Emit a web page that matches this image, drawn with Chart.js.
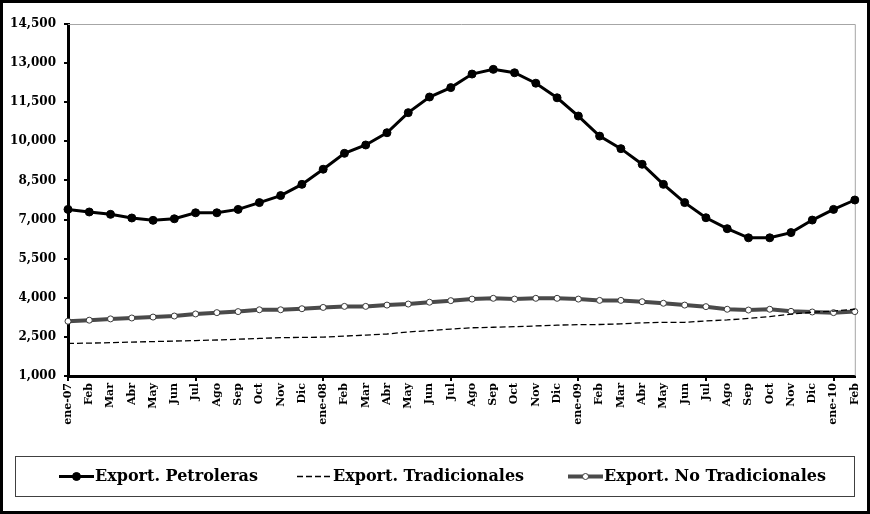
<!DOCTYPE html>
<html>
<head>
<meta charset="utf-8">
<script src="https://cdn.jsdelivr.net/npm/chart.js@4/dist/chart.umd.min.js"></script>
<style>
    body { margin: 0; background: #fff; }
    #wrap { width: 870px; height: 514px; }
</style>
</head>
<body>
<div id="wrap"><canvas id="exportChart" width="870" height="514"></canvas></div>
<script>
// Month labels (ene-07 .. Feb 2010)
const months = [
    'ene-07', 'Feb', 'Mar', 'Abr', 'May', 'Jun', 'Jul', 'Ago', 'Sep', 'Oct', 'Nov', 'Dic',
    'ene-08', 'Feb', 'Mar', 'Abr', 'May', 'Jun', 'Jul', 'Ago', 'Sep', 'Oct', 'Nov', 'Dic',
    'ene-09', 'Feb', 'Mar', 'Abr', 'May', 'Jun', 'Jul', 'Ago', 'Sep', 'Oct', 'Nov', 'Dic',
    'ene-10', 'Feb'
];

// Series values
const petroleras = [
    7390, 7290, 7200, 7060, 6970, 7030, 7260, 7260, 7390, 7650, 7920, 8350,
    8930, 9540, 9860, 10330, 11100, 11700, 12060, 12580, 12760, 12630, 12230, 11670,
    10970, 10200, 9720, 9120, 8350, 7650, 7070, 6650, 6300, 6300, 6500, 6980,
    7390, 7750
];
const tradicionales = [
    2250, 2260, 2280, 2300, 2320, 2340, 2360, 2380, 2410, 2440, 2470, 2480,
    2490, 2530, 2570, 2610, 2690, 2740, 2800, 2850, 2870, 2890, 2920, 2950,
    2970, 2975, 3000, 3040, 3060, 3060, 3110, 3150, 3210, 3280, 3370, 3450,
    3490, 3560
];
const noTradicionales = [
    3100, 3140, 3190, 3225, 3260, 3300, 3380, 3430, 3470, 3540, 3540, 3580,
    3630, 3670, 3670, 3720, 3760, 3830, 3890, 3950, 3980, 3950, 3980, 3980,
    3950, 3900, 3900, 3850, 3790, 3720, 3660, 3560, 3530, 3560, 3480, 3455,
    3430, 3470
];

// Axis range
const yMin = 1000;
const yMax = 14500;
const yStep = 1500;

const serif = "'DejaVu Serif', 'Liberation Serif', serif";

// White background, outer frame and plot frame
const framePlugin = {
    id: 'frame',
    beforeDraw(chart) {
        const ctx = chart.ctx;
        ctx.save();
        ctx.fillStyle = '#fff';
        ctx.fillRect(0, 0, chart.width, chart.height);
        ctx.restore();
    },
    beforeDatasetsDraw(chart) {
        const { ctx, chartArea } = chart;
        ctx.save();
        ctx.strokeStyle = '#a6a6a6';
        ctx.lineWidth = 1;
        ctx.beginPath();
        ctx.moveTo(chartArea.left, chartArea.top + 0.5);
        ctx.lineTo(chartArea.right + 0.5, chartArea.top + 0.5);
        ctx.lineTo(chartArea.right + 0.5, chartArea.bottom);
        ctx.stroke();
        ctx.restore();
    },
    afterDraw(chart) {
        const ctx = chart.ctx;
        ctx.save();
        ctx.strokeStyle = '#000';
        ctx.lineWidth = 3;
        ctx.strokeRect(1.5, 1.5, chart.width - 3, chart.height - 3);
        ctx.restore();
    }
};

// Boxed legend at the bottom, built from the dataset styles
const boxLegend = {
    id: 'boxLegend',
    afterDraw(chart) {
        const ctx = chart.ctx;
        const startX = [59, 297, 568];
        const sampleW = 35;
        const cy = 476.5;
        ctx.save();
        ctx.strokeStyle = '#404040';
        ctx.lineWidth = 1;
        ctx.strokeRect(15.5, 456.5, 839, 40);

        chart.data.datasets.forEach((ds, i) => {
            const x0 = startX[i];
            ctx.save();
            ctx.strokeStyle = ds.borderColor;
            ctx.lineWidth = ds.borderWidth;
            ctx.setLineDash(ds.borderDash || []);
            ctx.beginPath();
            ctx.moveTo(x0, cy);
            ctx.lineTo(x0 + sampleW, cy);
            ctx.stroke();
            ctx.setLineDash([]);
            if (ds.pointRadius > 0) {
                ctx.beginPath();
                ctx.arc(x0 + sampleW / 2, cy, ds.pointRadius, 0, Math.PI * 2);
                ctx.fillStyle = ds.pointBackgroundColor;
                ctx.fill();
                ctx.lineWidth = ds.pointBorderWidth;
                ctx.strokeStyle = ds.pointBorderColor;
                ctx.stroke();
            }
            ctx.restore();

            ctx.fillStyle = '#000';
            ctx.font = 'bold 16px ' + serif;
            ctx.textBaseline = 'middle';
            ctx.textAlign = 'left';
            ctx.fillText(ds.label, x0 + sampleW + 1, cy);
        });
        ctx.restore();
    }
};

const exportChart = new Chart(document.getElementById('exportChart'), {
    type: 'line',
    data: {
        labels: months,
        datasets: [{
            label: 'Export. Petroleras',
            data: petroleras,
            borderColor: '#000',
            borderWidth: 3,
            pointRadius: 4,
            pointBackgroundColor: '#000',
            pointBorderColor: '#000',
            pointBorderWidth: 1,
            tension: 0
        }, {
            label: 'Export. Tradicionales',
            data: tradicionales,
            borderColor: '#000',
            borderWidth: 1.3,
            borderDash: [6, 3],
            pointRadius: 0,
            tension: 0
        }, {
            label: 'Export. No Tradicionales',
            data: noTradicionales,
            borderColor: '#4a4a4a',
            borderWidth: 4,
            pointRadius: 3,
            pointBackgroundColor: '#fff',
            pointBorderColor: '#3a3a3a',
            pointBorderWidth: 1,
            tension: 0
        }]
    },
    options: {
        responsive: false,
        animation: false,
        events: [],
        layout: {
            padding: { left: 0, right: 15, top: 24, bottom: 78 }
        },
        scales: {
            x: {
                offset: false,
                border: { color: '#000', width: 3 },
                grid: {
                    drawOnChartArea: false,
                    drawTicks: true,
                    tickLength: 5,
                    lineWidth: 2,
                    color: ctx => (ctx.index % 6 === 0 ? '#000' : 'rgba(0,0,0,0)')
                },
                ticks: {
                    autoSkip: false,
                    maxRotation: 90,
                    minRotation: 90,
                    padding: 2,
                    color: '#000',
                    font: { family: serif, size: 11, weight: 'bold' }
                },
                afterFit(scale) { scale.height = 60; }
            },
            y: {
                min: yMin,
                max: yMax,
                border: { color: '#000', width: 3 },
                grid: {
                    drawOnChartArea: false,
                    drawTicks: true,
                    tickLength: 4,
                    lineWidth: 2,
                    color: '#000'
                },
                ticks: {
                    stepSize: yStep,
                    padding: 8,
                    color: '#000',
                    font: { family: serif, size: 12, weight: 'bold' },
                    callback: v => v.toLocaleString('en-US')
                },
                afterFit(scale) { scale.width = 68; }
            }
        },
        plugins: {
            legend: { display: false },
            tooltip: { enabled: false }
        }
    },
    plugins: [framePlugin, boxLegend]
});
</script>
</body>
</html>
